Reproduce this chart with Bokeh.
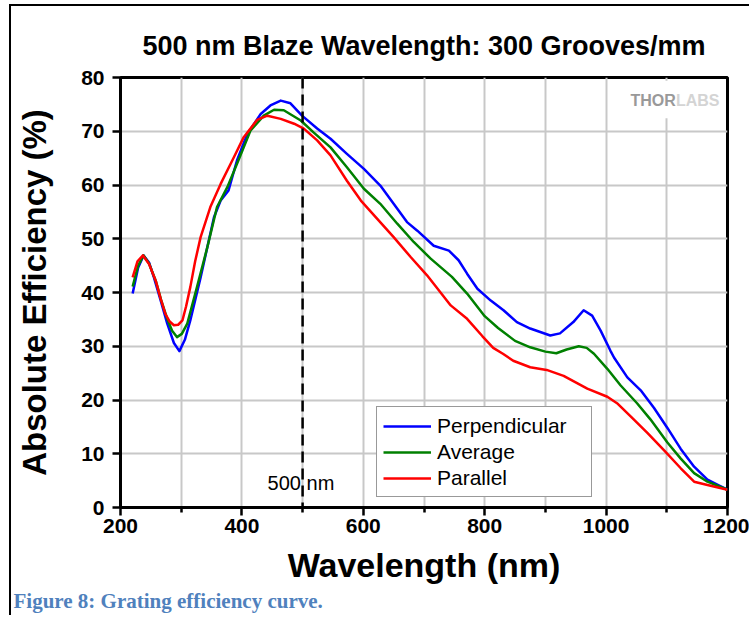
from bokeh.plotting import figure
from bokeh.models import (Range1d, Span, Label, Legend, LegendItem, FixedTicker,
                          BoxAnnotation, Title)
from bokeh.embed import file_html
from bokeh.resources import INLINE

# ---------------- data ----------------
perp_wl = [220, 229, 238, 247, 255, 266, 277, 288, 297, 306, 315, 332, 354, 365, 378,
           392, 409, 431, 447, 464, 480, 499, 524, 546, 573, 601, 628, 650, 672, 689,
           716, 741, 757, 771, 788, 810, 831, 853, 875, 908, 924, 946, 963, 977, 991,
           1007, 1013, 1035, 1057, 1079, 1101, 1123, 1145, 1167, 1184, 1200]
perp_eff = [39.8, 44.6, 46.9, 45.6, 42.8, 38.6, 34.2, 30.6, 29.1, 31.2, 34.8, 42.8,
            54.0, 57.1, 59.0, 64.6, 69.5, 73.2, 74.8, 75.7, 75.2, 72.9, 70.5, 68.6,
            65.8, 63.0, 59.9, 56.5, 53.1, 51.5, 48.7, 47.8, 46.0, 43.5, 40.7, 38.5,
            36.7, 34.5, 33.3, 32.0, 32.4, 34.5, 36.7, 35.7, 32.9, 29.2, 27.9, 24.2,
            21.8, 18.5, 14.8, 10.9, 7.6, 5.2, 4.2, 3.3]

avg_wl = [220, 229, 238, 247, 258, 267, 277, 285, 293, 301, 310, 326, 343, 359, 376,
          395, 414, 436, 453, 469, 497, 518, 546, 573, 601, 628, 656, 683, 711, 746,
          771, 800, 822, 850, 875, 900, 918, 935, 955, 968, 980, 1002, 1024, 1051,
          1073, 1101, 1123, 1145, 1167, 1200]
avg_eff = [41.1, 45.0, 46.9, 45.4, 42.2, 38.6, 35.1, 32.9, 31.7, 32.3, 34.2, 41.0,
           48.4, 55.9, 59.6, 64.8, 70.1, 72.9, 74.0, 73.9, 72.0, 69.8, 67.0, 63.3,
           59.3, 56.5, 52.8, 49.4, 46.3, 42.9, 39.8, 35.6, 33.4, 31.0, 29.8, 29.0,
           28.7, 29.4, 30.0, 29.7, 28.6, 25.8, 22.7, 19.4, 16.4, 12.1, 9.1, 6.4, 4.8,
           3.3]

par_wl = [220, 228, 237, 247, 258, 266, 274, 281, 288, 295, 302, 308, 315, 323, 332,
          348, 365, 387, 403, 425, 442, 464, 486, 502, 524, 546, 573, 596, 623, 650,
          678, 705, 744, 771, 796, 814, 830, 847, 875, 902, 930, 969, 1002, 1018, 1040,
          1068, 1096, 1123, 1145, 1167, 1200]
par_eff = [42.8, 45.8, 46.9, 45.3, 42.2, 38.9, 36.0, 34.6, 33.9, 34.0, 34.8, 37.4,
           41.0, 45.8, 50.3, 55.9, 60.2, 65.2, 68.9, 72.1, 72.9, 72.3, 71.4, 70.5,
           68.3, 65.5, 60.8, 57.1, 53.7, 50.3, 46.6, 43.2, 37.6, 35.1, 31.9, 29.7,
           28.6, 27.3, 26.1, 25.6, 24.5, 22.1, 20.6, 19.4, 17.0, 13.9, 10.6, 7.3, 4.8,
           4.2, 3.3]

series_names = ["Perpendicular", "Average", "Parallel"]
series_colors = ["#0000ff", "#008000", "#ff0000"]

x_major = [200, 400, 600, 800, 1000, 1200]
x_minor = [300, 500, 700, 900, 1100]
x_grid = [200, 300, 400, 500, 600, 700, 800, 900, 1000, 1100, 1200]
y_ticks = [0, 10, 20, 30, 40, 50, 60, 70, 80]
blaze_wl = 500

FONT = "Liberation Sans"

p = figure(width=740, height=611, x_range=Range1d(200, 1200), y_range=Range1d(0, 80),
           output_backend="svg", toolbar_location=None,
           min_border_left=109, min_border_right=24, min_border_top=71,
           min_border_bottom=110)
p.margin = (4, 0, 0, 9)
p.styles = {"border-top": "2px solid black", "border-left": "2px solid black"}

p.title.text = "500 nm Blaze Wavelength: 300 Grooves/mm"
p.title.text_font = FONT
p.title.text_font_size = "27px"
p.title.text_font_style = "bold"
p.title.text_color = "black"
p.title.align = "center"
p.title.standoff = 34

# axes
for ax in (p.xaxis[0], p.yaxis[0]):
    ax.axis_line_width = 3
    ax.axis_line_color = "black"
    ax.major_tick_line_width = 2.5
    ax.major_tick_line_color = "black"
    ax.major_tick_in = 0
    ax.major_tick_out = 8
    ax.minor_tick_line_width = 2.5
    ax.minor_tick_line_color = "black"
    ax.minor_tick_in = 0
    ax.minor_tick_out = 5
    ax.major_label_text_font = FONT
    ax.major_label_text_font_style = "bold"
    ax.major_label_text_font_size = "21px"
    ax.major_label_text_color = "black"
    ax.axis_label_text_font = FONT
    ax.axis_label_text_font_style = "bold"
    ax.axis_label_text_color = "black"

p.xaxis.ticker = FixedTicker(ticks=x_major, minor_ticks=x_minor)
p.yaxis.ticker = FixedTicker(ticks=y_ticks)
p.xaxis.axis_label = "Wavelength (nm)"
p.yaxis.axis_label = "Absolute Efficiency (%)"
p.xaxis.axis_label_text_font_size = "34px"
p.yaxis.axis_label_text_font_size = "33px"
p.xaxis.major_label_standoff = 3
p.yaxis.major_label_standoff = 8
p.xaxis.axis_label_standoff = 10
p.yaxis.axis_label_standoff = 25

p.xgrid.ticker = FixedTicker(ticks=x_grid)
p.ygrid.ticker = FixedTicker(ticks=y_ticks)
for g in (p.xgrid[0], p.ygrid[0]):
    g.grid_line_color = "#c8c8c8"
    g.grid_line_width = 2

p.outline_line_color = "black"
p.outline_line_width = 3
p.background_fill_color = "white"

# watermark box and text
p.add_layout(BoxAnnotation(left=1024, right=1195, bottom=72.4, top=79.4,
                           fill_color="white", fill_alpha=1, line_color=None))
p.add_layout(Label(x=1040, y=75.7, text="THOR", text_font=FONT, text_font_style="bold",
                   text_font_size="16px", text_color="#999999", text_baseline="middle"))
p.add_layout(Label(x=1115, y=75.7, text="LABS", text_font=FONT, text_font_style="bold",
                   text_font_size="16px", text_color="#d4d4d4", text_baseline="middle"))

# blaze line
p.add_layout(Span(location=blaze_wl, dimension="height", line_color="black",
                  line_width=2.5, line_dash="11 6"))
p.add_layout(Label(x=blaze_wl, y=4.65, x_offset=-35, text="500 nm", text_font=FONT,
                   text_font_size="20px", text_color="black", text_baseline="middle",
                   text_align="left"))

renderers = []
for wl, eff, col in zip((perp_wl, avg_wl, par_wl), (perp_eff, avg_eff, par_eff), series_colors):
    r = p.line(wl, eff, line_color=col, line_width=2.5, line_join="round")
    renderers.append(r)

legend = Legend(items=[LegendItem(label=n, renderers=[r]) for n, r in zip(series_names, renderers)],
                location=(256, 10))
legend.label_text_font = FONT
legend.label_text_font_size = "21px"
legend.label_text_color = "black"
legend.glyph_width = 48
legend.glyph_height = 22
legend.label_height = 25
legend.label_width = 148
legend.spacing = 1
legend.padding = 6
legend.margin = 0
legend.label_standoff = 6
legend.border_line_color = "#333333"
legend.border_line_width = 1.5
legend.background_fill_color = "white"
legend.background_fill_alpha = 1
p.add_layout(legend, "center")

# caption
caption = Title(text="Figure 8: Grating efficiency curve.", align="left", offset=-107,
                text_font="Liberation Serif", text_font_style="bold",
                text_font_size="21px", text_color="#4f81bd", standoff=0)
p.add_layout(caption, "below")

open("out.html", "w").write(file_html(p, INLINE))
